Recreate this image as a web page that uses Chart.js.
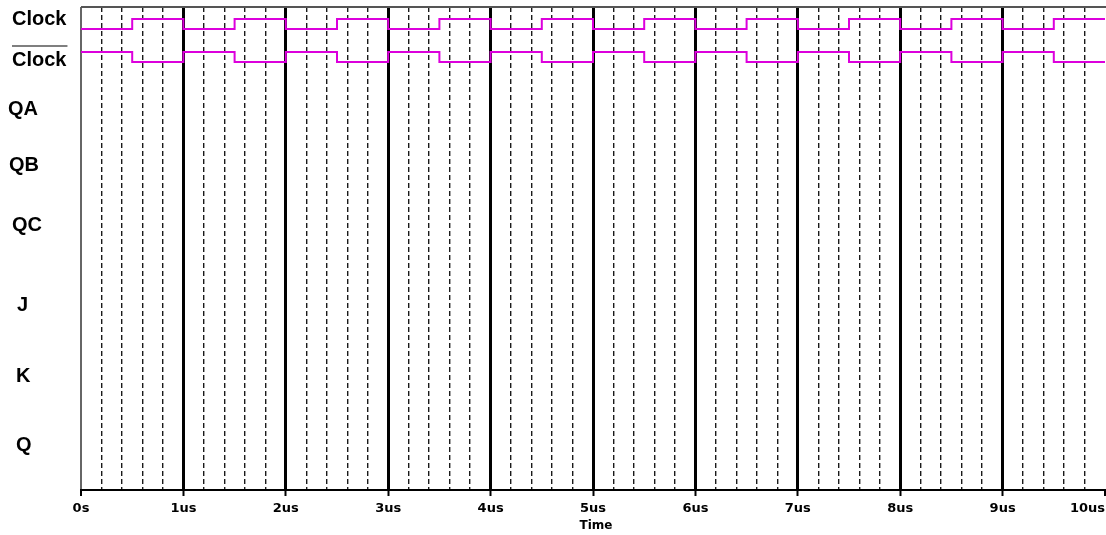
<!DOCTYPE html>
<html>
<head>
<meta charset="utf-8">
<title>Timing diagram</title>
<script src="https://cdn.jsdelivr.net/npm/chart.js@4.4.1/dist/chart.umd.min.js"></script>
<style>
  html, body { margin: 0; padding: 0; background: #fff; }
  #wrap { width: 1106px; height: 535px; }
</style>
</head>
<body>
<div id="wrap"><canvas id="timing" width="1106" height="535"></canvas></div>
<script>
// --- data ---
const signalNames = ['Clock', 'Clock', 'QA', 'QB', 'QC', 'J', 'K', 'Q'];
const invertedName = [false, true, false, false, false, false, false, false];
const tickLabels = ['0s', '1us', '2us', '3us', '4us', '5us', '6us', '7us', '8us', '9us', '10us'];
const axisTitle = 'Time';

// sample times (us) and logic levels, held until the next sample
const times    = [0, 0.5, 1, 1.5, 2, 2.5, 3, 3.5, 4, 4.5, 5, 5.5, 6, 6.5, 7, 7.5, 8, 8.5, 9, 9.5, 10];
const clock    = [0, 1,   0, 1,   0, 1,   0, 1,   0, 1,   0, 1,   0, 1,   0, 1,   0, 1,   0, 1,   1];
const clockBar = [1, 0,   1, 0,   1, 0,   1, 0,   1, 0,   1, 0,   1, 0,   1, 0,   1, 0,   1, 0,   0];

// --- layout (y units = pixels down from the top of the plot) ---
const rowLow = { clock: 22, clockBar: 55 };
const swing = 10;
const labelRows = [12, 53, 102, 158, 218, 298, 369, 438];
const labelLeft = [12, 12, 8, 9, 12, 17, 16, 16];
const trace = 'rgb(220, 0, 220)';

const isMajor = v => Math.abs(v - Math.round(v)) < 1e-6;

function toPoints(levels, low) {
  return times.map((t, i) => ({ x: t, y: low - levels[i] * swing }));
}

const timingText = {
  id: 'timingText',
  afterDraw(chart) {
    const { ctx, chartArea, scales } = chart;
    const x = scales.x, y = scales.y;
    ctx.save();

    // frame line along the top
    ctx.strokeStyle = '#555';
    ctx.lineWidth = 2;
    ctx.beginPath();
    ctx.moveTo(chartArea.left, chartArea.top);
    ctx.lineTo(chart.width, chartArea.top);
    ctx.stroke();

    // signal names on the left
    ctx.fillStyle = '#000';
    ctx.font = 'bold 20px "Liberation Sans", Arial, sans-serif';
    ctx.textAlign = 'left';
    ctx.textBaseline = 'middle';
    signalNames.forEach((name, i) => {
      const py = y.getPixelForValue(labelRows[i]);
      ctx.fillText(name, labelLeft[i], py);
      if (invertedName[i]) {
        const w = ctx.measureText(name).width;
        ctx.lineWidth = 1.2;
        ctx.strokeStyle = '#000';
        ctx.beginPath();
        ctx.moveTo(labelLeft[i], py - 14);
        ctx.lineTo(labelLeft[i] + w + 1, py - 14);
        ctx.stroke();
      }
    });

    // time tick labels (last one kept inside the canvas)
    ctx.font = 'bold 13px "DejaVu Sans", sans-serif';
    ctx.textAlign = 'center';
    tickLabels.forEach((t, i) => {
      const w = ctx.measureText(t).width;
      const px = Math.min(x.getPixelForValue(i), chart.width - 1 - w / 2);
      ctx.fillText(t, px, chartArea.bottom + 19);
    });

    ctx.font = 'bold 12px "DejaVu Sans", sans-serif';
    ctx.fillText(axisTitle, (chartArea.left + chartArea.right) / 2 + 3, chartArea.bottom + 36);
    ctx.restore();
  }
};

new Chart(document.getElementById('timing'), {
  type: 'line',
  data: {
    datasets: [
      { label: 'Clock', data: toPoints(clock, rowLow.clock) },
      { label: 'Clock bar', data: toPoints(clockBar, rowLow.clockBar) }
    ].map(d => Object.assign(d, {
      stepped: true,
      borderColor: trace,
      borderWidth: 2,
      pointRadius: 0,
      fill: false
    }))
  },
  options: {
    responsive: false,
    animation: false,
    layout: { padding: { left: 81, top: 7, right: 1, bottom: 39 } },
    plugins: { legend: { display: false }, tooltip: { enabled: false } },
    scales: {
      x: {
        type: 'linear',
        min: 0,
        max: 10,
        ticks: { stepSize: 0.2, maxTicksLimit: 60, autoSkip: false, display: false },
        grid: {
          color: c => {
            const v = c.tick.value;
            if (v === 0) return '#666';
            return isMajor(v) ? '#000' : '#1a1a1a';
          },
          lineWidth: c => {
            const v = c.tick.value;
            if (v >= 10) return 0;
            if (v === 0) return 2;
            return isMajor(v) ? 3 : 1.4;
          },
          tickColor: c => isMajor(c.tick.value) ? '#000' : 'rgba(0,0,0,0)',
          tickWidth: 2,
          tickLength: 6
        },
        border: {
          display: true,
          color: '#000',
          width: 2,
          dash: c => (c.tick && !isMajor(c.tick.value)) ? [5, 3] : []
        }
      },
      y: {
        type: 'linear',
        min: 0,
        max: 483,
        reverse: true,
        display: false
      }
    }
  },
  plugins: [timingText]
});
</script>
</body>
</html>
